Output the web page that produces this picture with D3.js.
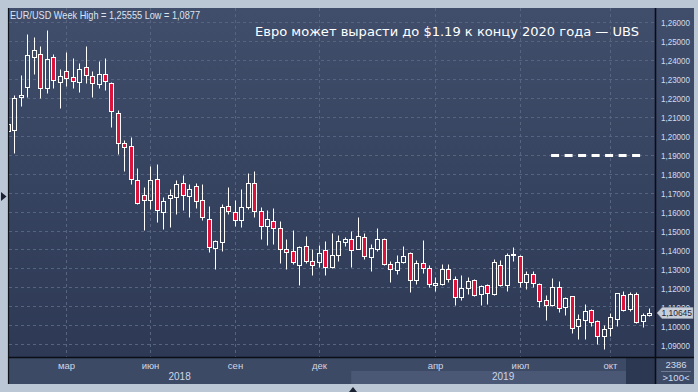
<!DOCTYPE html>
<html><head><meta charset="utf-8">
<script src="https://cdn.jsdelivr.net/npm/d3@7"></script>
<style>html,body{margin:0;padding:0;background:#bcc7d6;overflow:hidden}</style>
</head><body><svg id="c" width="698" height="392"></svg>
<script>
// ---- data (weekly EUR/USD candles) ----
const openP  = [1.2060,1.2029,1.2203,1.2256,1.2414,1.2430,1.2250,1.2414,1.2282,1.2340,
1.2308,1.2282,1.2361,1.2314,1.2272,1.2324,1.2277,1.2118,1.1960,1.1944,
1.1765,1.1686,1.1659,1.1770,1.1596,1.1670,1.1675,1.1749,1.1680,1.1733,
1.1659,1.1559,1.1406,1.1438,1.1628,1.1596,1.1554,1.1622,1.1749,1.1601,
1.1522,1.1549,1.1512,1.1401,1.1390,1.1316,1.1417,1.1337,1.1332,1.1396,
1.1306,1.1369,1.1438,1.1454,1.1404,1.1464,1.1362,1.1404,1.1454,1.1322,
1.1290,1.1332,1.1380,1.1237,1.1327,1.1301,1.1214,1.1216,1.1298,1.1243,
1.1148,1.1195,1.1237,1.1163,1.1211,1.1163,1.1316,1.1211,1.1369,1.1364,
1.1227,1.1269,1.1216,1.1132,1.1105,1.1200,1.1095,1.1153,1.0994,1.1026,
1.1079,1.1021,1.0942,1.0984,1.1031,1.1158,1.1084,1.1163,1.1021,1.1053];
const highP  = [1.2073,1.2215,1.2321,1.2537,1.2521,1.2474,1.2556,1.2431,1.2351,1.2442,
1.2410,1.2385,1.2474,1.2342,1.2394,1.2410,1.2284,1.2136,1.1978,1.1993,
1.1830,1.1730,1.1840,1.1851,1.1675,1.1721,1.1767,1.1791,1.1744,1.1749,
1.1744,1.1628,1.1448,1.1640,1.1730,1.1661,1.1719,1.1802,1.1812,1.1622,
1.1607,1.1617,1.1549,1.1454,1.1501,1.1417,1.1469,1.1401,1.1422,1.1443,
1.1485,1.1475,1.1464,1.1497,1.1570,1.1485,1.1427,1.1512,1.1459,1.1337,
1.1369,1.1417,1.1387,1.1344,1.1448,1.1318,1.1253,1.1323,1.1323,1.1260,
1.1264,1.1253,1.1243,1.1211,1.1216,1.1348,1.1343,1.1380,1.1411,1.1369,
1.1285,1.1285,1.1221,1.1158,1.1248,1.1232,1.1151,1.1155,1.1058,1.1111,
1.1084,1.1026,1.1000,1.1063,1.1171,1.1179,1.1174,1.1174,1.1063,1.1089];
const lowP   = [1.2015,1.1911,1.2157,1.2206,1.2327,1.2201,1.2227,1.2254,1.2148,1.2263,
1.2254,1.2232,1.2280,1.2206,1.2254,1.2241,1.2048,1.1905,1.1816,1.1747,
1.1640,1.1504,1.1612,1.1543,1.1506,1.1520,1.1589,1.1610,1.1573,1.1620,
1.1557,1.1388,1.1298,1.1393,1.1585,1.1525,1.1520,1.1612,1.1570,1.1457,
1.1425,1.1430,1.1330,1.1298,1.1322,1.1214,1.1327,1.1267,1.1306,1.1267,
1.1301,1.1341,1.1417,1.1309,1.1402,1.1350,1.1288,1.1390,1.1320,1.1230,
1.1269,1.1330,1.1177,1.1218,1.1274,1.1203,1.1182,1.1214,1.1227,1.1108,
1.1135,1.1163,1.1156,1.1108,1.1114,1.1158,1.1206,1.1179,1.1341,1.1203,
1.1193,1.1200,1.1098,1.1026,1.1103,1.1068,1.1053,1.0961,1.0926,1.0926,
1.0994,1.0903,1.0877,1.0942,1.0994,1.1074,1.1074,1.1014,1.0989,1.1050];
const closeP = [1.2025,1.2198,1.2215,1.2425,1.2453,1.2250,1.2403,1.2293,1.2314,1.2303,
1.2289,1.2352,1.2319,1.2277,1.2324,1.2287,1.2129,1.1960,1.1939,1.1770,
1.1644,1.1659,1.1765,1.1607,1.1654,1.1686,1.1744,1.1686,1.1717,1.1654,
1.1570,1.1411,1.1443,1.1622,1.1601,1.1554,1.1622,1.1749,1.1601,1.1522,
1.1559,1.1512,1.1401,1.1385,1.1332,1.1411,1.1337,1.1316,1.1380,1.1306,
1.1369,1.1443,1.1454,1.1396,1.1469,1.1364,1.1406,1.1454,1.1322,1.1295,
1.1332,1.1364,1.1237,1.1327,1.1301,1.1216,1.1221,1.1295,1.1243,1.1148,
1.1195,1.1232,1.1158,1.1206,1.1169,1.1332,1.1211,1.1369,1.1376,1.1227,
1.1269,1.1221,1.1126,1.1105,1.1200,1.1089,1.1142,1.0984,1.1031,1.1074,
1.1016,1.0942,1.0979,1.1042,1.1169,1.1079,1.1163,1.1016,1.1053,1.10645];

const monthLabels = ["мар","июн","сен","дек","апр","июл","окт"];
const monthIdx    = [9,22,35,48,66,79,93];
const yearLabels  = ["2018","2019"];
const yearStartIdx = [0,53];
const yTicks = d3.range(109,127).map(d => d/100);
const lastPrice = 1.10645;
const targetPrice = 1.19;
const targetIdx = [84,98];
const headerText = "EUR/USD Week High = 1,25555 Low = 1,0877";
const titleText = "Евро может вырасти до $1.19 к концу 2020 года — UBS";
const cornerTexts = ["2386", ">100<"];

// ---- layout ----
const W = 698, H = 392;
const L = 8, T = 8, R = 655, B = 357, PR = 694, PB = 384;

const svg = d3.select("#c");
const x = d3.scaleLinear().domain([0, 99]).range([7.8, 649.3]);
const y = d3.scaleLinear().domain([1.09, 1.26]).range([344.2, 22.05]);
const cx = i => Math.round(x(i)) + 0.5;
const py = v => Math.round(y(v)) + 0.5;

const loc = d3.formatLocale({decimal: ",", thousands: " ", grouping: [3], currency: ["", ""]});
const f5 = loc.format(".5f");

const defs = svg.append("defs");
const g = defs.append("linearGradient").attr("id","bg").attr("x1",0).attr("y1",0).attr("x2",0).attr("y2",1);
g.append("stop").attr("offset","0%").attr("stop-color","#404e6b");
g.append("stop").attr("offset","100%").attr("stop-color","#2d3955");
defs.append("clipPath").attr("id","clip").append("rect")
  .attr("x", L + 1).attr("y", T).attr("width", R - L - 1).attr("height", B - T);

svg.append("rect").attr("width", W).attr("height", H).attr("fill", "#bcc7d6");
svg.append("rect").attr("x", L).attr("y", T).attr("width", PR - L).attr("height", B - T).attr("fill", "url(#bg)");
// bottom axis panel
svg.append("rect").attr("x", L).attr("y", B).attr("width", PR - L).attr("height", PB - B).attr("fill", "#3d4a66");
svg.append("rect").attr("x", x(yearStartIdx[1])).attr("y", 371).attr("width", 626 - x(yearStartIdx[1])).attr("height", PB - 371).attr("fill", "#4a5875");
svg.append("rect").attr("x", 626).attr("y", B + 1).attr("width", R - 626).attr("height", PB - B - 1).attr("fill", "#2c3851");

// gridlines
const grid = svg.append("g").attr("stroke", "#56647f").attr("stroke-width", 1).attr("stroke-dasharray", "3,3");
yTicks.forEach(v => {
  grid.append("line").attr("x1", L + 1).attr("x2", R).attr("y1", py(v)).attr("y2", py(v));
});
monthIdx.forEach(i => {
  grid.append("line").attr("x1", cx(i)).attr("x2", cx(i)).attr("y1", T).attr("y2", B);
});

// candles
const red = "#dc143c";
const cg = svg.append("g").attr("clip-path", "url(#clip)");
openP.forEach((o, i) => {
  const c = closeP[i], h = highP[i], l = lowP[i];
  const X = cx(i);
  const top = py(Math.max(o, c)), bot = py(Math.min(o, c));
  const yh = py(h), yl = py(l);
  if (yh < top) cg.append("line").attr("x1", X).attr("x2", X).attr("y1", yh).attr("y2", top).attr("stroke", "#fff");
  if (yl > bot) cg.append("line").attr("x1", X).attr("x2", X).attr("y1", bot).attr("y2", yl).attr("stroke", "#fff");
  const hh = Math.max(bot - top, 1);
  cg.append("rect").attr("x", X - 2).attr("y", top).attr("width", 4).attr("height", hh)
    .attr("fill", c < o ? red : "none").attr("stroke", "#fff").attr("stroke-width", 1);
});

// target dashed line
svg.append("line").attr("x1", x(targetIdx[0]) - 1).attr("x2", x(targetIdx[1]))
  .attr("y1", py(targetPrice)).attr("y2", py(targetPrice))
  .attr("stroke", "#fff").attr("stroke-width", 3).attr("stroke-dasharray", "8,5.5");

// frame lines
svg.append("line").attr("x1", L + 0.5).attr("x2", L + 0.5).attr("y1", T).attr("y2", PB).attr("stroke", "#10141c").attr("stroke-width", 1.2);
svg.append("line").attr("x1", R + 0.5).attr("x2", R + 0.5).attr("y1", T).attr("y2", PB).attr("stroke", "#0a0d14").attr("stroke-width", 1.6);
svg.append("line").attr("x1", L).attr("x2", PR).attr("y1", B + 0.5).attr("y2", B + 0.5).attr("stroke", "#0a0d14").attr("stroke-width", 1.6);

// y axis labels
const yl = svg.append("g").attr("font-family", "Liberation Sans, Arial, sans-serif").attr("font-size", 9.5).attr("fill", "#d3dbea");
yTicks.forEach(v => {
  yl.append("text").attr("x", 661).attr("y", y(v) + 1).attr("dy", "0.35em")
    .attr("textLength", 29).attr("lengthAdjust", "spacingAndGlyphs").text(f5(v));
});

// price tag
const ty = y(lastPrice);
svg.append("path").attr("d", `M657,${ty} L662,${ty-5.5} L693,${ty-5.5} L693,${ty+5.5} L662,${ty+5.5} Z`)
  .attr("fill", "#c8ced8").attr("stroke", "#9aa3b3").attr("stroke-width", 0.6);
svg.append("text").attr("x", 661.5).attr("y", ty).attr("dy", "0.35em")
  .attr("font-family", "Liberation Sans, Arial, sans-serif").attr("font-size", 9.5).attr("fill", "#1c2438")
  .attr("textLength", 30.5).attr("lengthAdjust", "spacingAndGlyphs").text(f5(lastPrice));

// x axis labels
const xl = svg.append("g").attr("font-family", "Liberation Sans, Arial, sans-serif").attr("fill", "#cdd6e8").attr("text-anchor", "middle");
monthLabels.forEach((m, k) => {
  xl.append("text").attr("x", cx(monthIdx[k])).attr("y", 366).attr("dy", "0.35em").attr("font-size", 9.5).text(m);
});
const yEdges = [L, x(yearStartIdx[1]), R];
yearLabels.forEach((yr, k) => {
  xl.append("text").attr("x", (yEdges[k] + yEdges[k + 1]) / 2).attr("y", 376.5).attr("dy", "0.35em").attr("font-size", 10).text(yr);
});

// corner texts
const ct = svg.append("g").attr("font-family", "Liberation Sans, Arial, sans-serif").attr("fill", "#d3dbea").attr("text-anchor", "middle").attr("font-size", 9.5);
ct.append("text").attr("x", 676).attr("y", 364.5).attr("dy", "0.35em").text(cornerTexts[0]);
ct.append("line").attr("x1", 661).attr("x2", 691).attr("y1", 371.5).attr("y2", 371.5).attr("stroke", "#7c88a0").attr("stroke-width", 0.8);
ct.append("text").attr("x", 676).attr("y", 378).attr("dy", "0.35em").text(cornerTexts[1]);

// header and title
svg.append("text").attr("x", 10).attr("y", 15).attr("dy", "0.35em")
  .attr("font-family", "Liberation Sans, Arial, sans-serif").attr("font-size", 10.5).attr("fill", "#dde4f1")
  .attr("textLength", 190).attr("lengthAdjust", "spacingAndGlyphs").text(headerText);
svg.append("text").attr("x", 255).attr("y", 32).attr("dy", "0.35em")
  .attr("font-family", "DejaVu Sans, Verdana, sans-serif").attr("font-size", 12.5).attr("fill", "#ffffff")
  .attr("textLength", 384).attr("lengthAdjust", "spacingAndGlyphs").text(titleText);

// small markers on the outer frame
svg.append("path").attr("d", "M1,192 L6.5,196.5 L1,201 Z").attr("fill", "#1a2130");
svg.append("path").attr("d", "M349,392 L353,387 L357,392 Z").attr("fill", "#1a2130");
</script>
</body></html>
